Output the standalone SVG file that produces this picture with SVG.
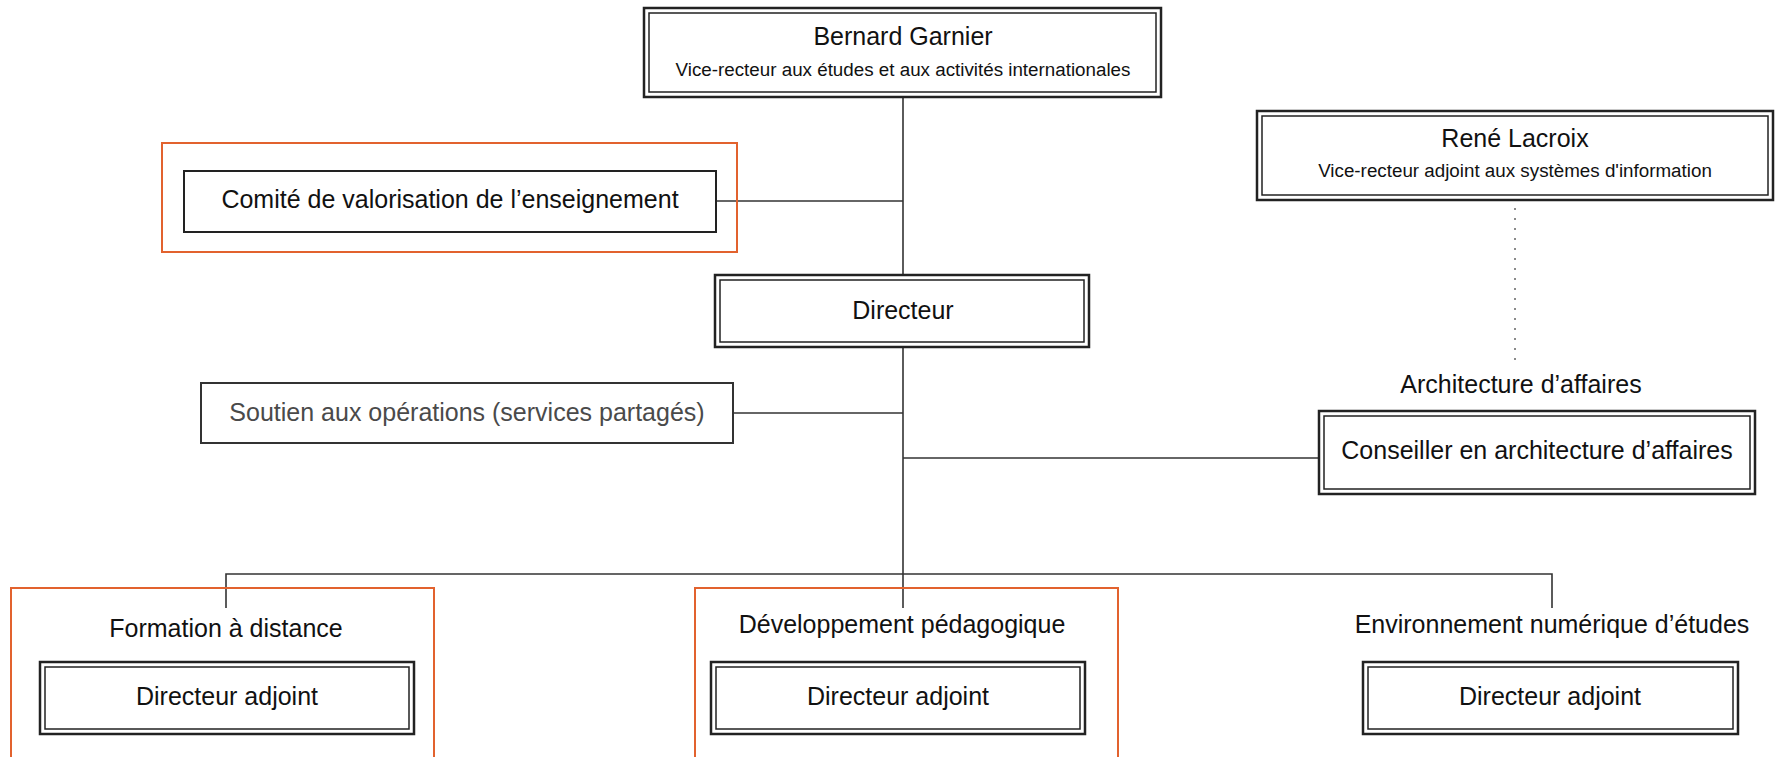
<svg xmlns="http://www.w3.org/2000/svg" width="1777" height="757" viewBox="0 0 1777 757">
<style>
  text { font-family: "Liberation Sans", Arial, sans-serif; fill: #111; text-anchor: middle; }
  .t { font-size: 25px; }
  .s { font-size: 18.8px; }
  .gray { fill: #4a4a4a; }
  .outer { fill: #fff; stroke: #222; stroke-width: 2.5; }
  .inner { fill: none; stroke: #222; stroke-width: 1.5; }
  .single { fill: #fff; stroke: #222; stroke-width: 2; }
  .thin { fill: #fff; stroke: #333; stroke-width: 2; }
  .org { fill: none; stroke: #E2622E; stroke-width: 2; }
  .ln { fill: none; stroke: #333; stroke-width: 1.6; }
  .dot { fill: none; stroke: #8a8a8a; stroke-width: 2; stroke-dasharray: 2 8; }
</style>
<rect width="1777" height="757" fill="#fff"/>

<g id="connectors">
  <line class="ln" x1="903" y1="97" x2="903" y2="275"/>
  <line class="ln" x1="903" y1="347" x2="903" y2="608"/>
  <line class="ln" x1="716" y1="201" x2="903" y2="201"/>
  <line class="ln" x1="733" y1="413" x2="903" y2="413"/>
  <line class="ln" x1="903" y1="458" x2="1319" y2="458"/>
  <polyline class="ln" points="226,608 226,574 1552,574 1552,608"/>
  <line class="dot" x1="1515" y1="208" x2="1515" y2="362"/>
</g>

<g id="bernard">
  <rect class="outer" x="644" y="8" width="517" height="89"/>
  <rect class="inner" x="649" y="13" width="507" height="79"/>
  <text class="t" x="903" y="45">Bernard Garnier</text>
  <text class="s" x="903" y="76">Vice-recteur aux études et aux activités internationales</text>
</g>

<g id="rene">
  <rect class="outer" x="1257" y="111" width="516" height="89"/>
  <rect class="inner" x="1262" y="116" width="506" height="79"/>
  <text class="t" x="1515" y="147">René Lacroix</text>
  <text class="s" x="1515" y="177">Vice-recteur adjoint aux systèmes d'information</text>
</g>

<g id="comite">
  <rect class="org" x="162" y="143" width="575" height="109"/>
  <rect class="single" x="184" y="171" width="532" height="61"/>
  <text class="t" x="450" y="208">Comité de valorisation de l’enseignement</text>
</g>

<g id="directeur">
  <rect class="outer" x="715" y="275" width="374" height="72"/>
  <rect class="inner" x="720" y="280" width="364" height="62"/>
  <text class="t" x="903" y="319">Directeur</text>
</g>

<g id="soutien">
  <rect class="thin" x="201" y="383" width="532" height="60"/>
  <text class="t gray" x="467" y="421">Soutien aux opérations (services partagés)</text>
</g>

<g id="architecture">
  <text class="t" x="1521" y="393">Architecture d’affaires</text>
  <rect class="outer" x="1319" y="411" width="436" height="83"/>
  <rect class="inner" x="1324" y="416" width="426" height="73"/>
  <text class="t" x="1537" y="459">Conseiller en architecture d’affaires</text>
</g>

<g id="formation">
  <rect class="org" x="11" y="588" width="423" height="180"/>
  <text class="t" x="226" y="637">Formation à distance</text>
  <rect class="outer" x="40" y="662" width="374" height="72"/>
  <rect class="inner" x="45" y="667" width="364" height="62"/>
  <text class="t" x="227" y="705">Directeur adjoint</text>
</g>

<g id="developpement">
  <rect class="org" x="695" y="588" width="423" height="180"/>
  <text class="t" x="902" y="633">Développement pédagogique</text>
  <rect class="outer" x="711" y="662" width="374" height="72"/>
  <rect class="inner" x="716" y="667" width="364" height="62"/>
  <text class="t" x="898" y="705">Directeur adjoint</text>
</g>

<g id="environnement">
  <text class="t" x="1552" y="633">Environnement numérique d’études</text>
  <rect class="outer" x="1363" y="662" width="375" height="72"/>
  <rect class="inner" x="1368" y="667" width="365" height="62"/>
  <text class="t" x="1550" y="705">Directeur adjoint</text>
</g>
</svg>
